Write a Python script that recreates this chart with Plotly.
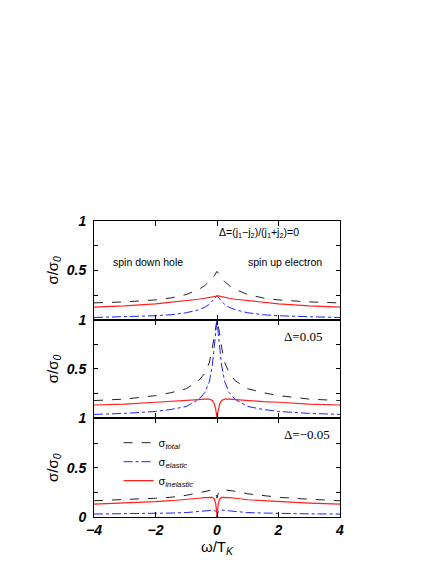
import plotly.graph_objects as go
from plotly.subplots import make_subplots

# omega / T_K sample points (denser near the Kondo peak)
omega = [-4, -3, -2, -1.5, -1, -0.6, -0.4, -0.25, -0.15, -0.08, -0.04, -0.01, 0,
         0.01, 0.04, 0.08, 0.15, 0.25, 0.4, 0.6, 1, 1.5, 2, 3, 4]

# panel 1: Delta = 0
total_d0 = [0.17, 0.18, 0.20, 0.22, 0.255, 0.305, 0.345, 0.385, 0.42, 0.45, 0.47, 0.485, 0.49,
            0.485, 0.47, 0.45, 0.42, 0.385, 0.345, 0.305, 0.255, 0.22, 0.20, 0.18, 0.17]
elastic_d0 = [0.022, 0.03, 0.04, 0.05, 0.07, 0.10, 0.125, 0.155, 0.185, 0.21, 0.228, 0.24, 0.245,
              0.24, 0.228, 0.21, 0.185, 0.155, 0.125, 0.10, 0.07, 0.05, 0.04, 0.03, 0.022]
inelastic_d0 = [0.128, 0.14, 0.16, 0.175, 0.192, 0.207, 0.217, 0.225, 0.232, 0.238, 0.242, 0.244, 0.245,
                0.244, 0.242, 0.238, 0.232, 0.225, 0.217, 0.207, 0.192, 0.175, 0.16, 0.14, 0.128]

# panel 2: Delta = 0.05
total_dp = [0.18, 0.195, 0.23, 0.26, 0.30, 0.38, 0.455, 0.565, 0.72, 0.87, 0.95, 0.99, 1.0,
            0.99, 0.95, 0.87, 0.72, 0.565, 0.455, 0.38, 0.30, 0.26, 0.23, 0.195, 0.18]
elastic_dp = [0.04, 0.05, 0.07, 0.09, 0.12, 0.19, 0.26, 0.37, 0.54, 0.73, 0.86, 0.97, 1.0,
              0.97, 0.86, 0.73, 0.54, 0.37, 0.26, 0.19, 0.12, 0.09, 0.07, 0.05, 0.04]
inelastic_dp = [0.135, 0.145, 0.163, 0.17, 0.178, 0.19, 0.195, 0.195, 0.18, 0.14, 0.09, 0.03, 0.0,
                0.03, 0.09, 0.14, 0.18, 0.195, 0.195, 0.19, 0.178, 0.17, 0.163, 0.145, 0.135]

# panel 3: Delta = -0.05
total_dm = [0.165, 0.175, 0.19, 0.20, 0.22, 0.245, 0.26, 0.27, 0.275, 0.265, 0.24, 0.21, 0.19,
            0.21, 0.24, 0.26, 0.27, 0.275, 0.27, 0.26, 0.235, 0.215, 0.20, 0.18, 0.165]
elastic_dm = [0.03, 0.032, 0.036, 0.04, 0.045, 0.055, 0.062, 0.068, 0.072, 0.07, 0.055, 0.02, 0.0,
              0.02, 0.055, 0.07, 0.072, 0.068, 0.062, 0.055, 0.045, 0.04, 0.036, 0.032, 0.03]
inelastic_dm = [0.13, 0.14, 0.155, 0.165, 0.175, 0.19, 0.197, 0.20, 0.198, 0.18, 0.13, 0.05, 0.0,
                0.05, 0.13, 0.18, 0.198, 0.20, 0.197, 0.19, 0.175, 0.165, 0.155, 0.14, 0.13]

panels = [
    (total_d0, elastic_d0, inelastic_d0),
    (total_dp, elastic_dp, inelastic_dp),
    (total_dm, elastic_dm, inelastic_dm),
]
names = ["σ<sub><i>total</i></sub>", "σ<sub><i>elastic</i></sub>", "σ<sub><i>inelastic</i></sub>"]
styles = [
    dict(color="#222222", width=1, dash="dash"),
    dict(color="#2020ff", width=1, dash="dashdot"),
    dict(color="#ff2020", width=1.2),
]

x_ticks = [-4, -2, 0, 2, 4]

fig = make_subplots(rows=3, cols=1, shared_xaxes=True, vertical_spacing=0)

for i, series in enumerate(panels):
    for j, ys in enumerate(series):
        fig.add_trace(
            go.Scatter(
                x=omega,
                y=ys,
                mode="lines",
                name=names[j],
                line=styles[j],
                showlegend=(i == 2),
            ),
            row=i + 1,
            col=1,
        )

tick_font = dict(family="Liberation Sans", size=14, weight="bold", style="italic", color="black")
for i in range(3):
    last = i == 2
    fig.update_yaxes(
        range=[0, 1],
        tickmode="array",
        tickvals=[0, 0.25, 0.5, 0.75, 1],
        ticktext=["0" if last else "", "", "0.5", "", "1"],
        ticks="inside",
        ticklen=4,
        tickcolor="black",
        showline=True,
        linecolor="black",
        linewidth=1,
        mirror="allticks",
        showgrid=False,
        zeroline=False,
        automargin=False,
        ticklabelstandoff=4,
        tickfont=tick_font,
        title=dict(text="σ/σ<sub><i>0</i></sub>", font=dict(family="Liberation Sans", size=15, color="black"), standoff=4),
        row=i + 1,
        col=1,
    )
    fig.update_xaxes(
        range=[-4, 4],
        tickmode="array",
        tickvals=x_ticks,
        ticks="inside",
        ticklen=5,
        tickcolor="black",
        showline=True,
        linecolor="black",
        linewidth=1,
        mirror="allticks",
        showgrid=False,
        zeroline=False,
        automargin=False,
        showticklabels=last,
        tickfont=tick_font,
        row=i + 1,
        col=1,
    )
fig.update_xaxes(
    title=dict(text="ω/T<sub><i>K</i></sub>", font=dict(family="Liberation Sans", size=15, color="black"), standoff=2),
    row=3,
    col=1,
)

sans = dict(family="Liberation Sans", size=10.5, color="black")
serif = dict(family="Liberation Serif", size=13, color="black")
fig.add_annotation(text="Δ=(j<sub>1</sub>−j<sub>2</sub>)/(j<sub>1</sub>+j<sub>2</sub>)=0", x=0, y=0.88,
                   xref="x", yref="y", xanchor="left", showarrow=False, font=sans)
fig.add_annotation(text="spin down hole", x=-3.45, y=0.58, xref="x", yref="y",
                   xanchor="left", showarrow=False, font=sans)
fig.add_annotation(text="spin up electron", x=0.95, y=0.58, xref="x", yref="y",
                   xanchor="left", showarrow=False, font=sans)
fig.add_annotation(text="Δ=0.05", x=2.12, y=0.83, xref="x2", yref="y2",
                   xanchor="left", showarrow=False, font=serif)
fig.add_annotation(text="Δ=−0.05", x=2.12, y=0.84, xref="x3", yref="y3",
                   xanchor="left", showarrow=False, font=serif)

# page body adds an 8px offset, so the figure is 8px smaller than the window
fig.update_layout(
    width=428,
    height=556,
    margin=dict(l=86, r=96, t=213, b=47),
    paper_bgcolor="white",
    plot_bgcolor="white",
    showlegend=True,
    legend=dict(
        x=0.1,
        y=0.3,
        xanchor="left",
        yanchor="top",
        bgcolor="rgba(0,0,0,0)",
        font=dict(family="Liberation Sans", size=11, color="black"),
        tracegroupgap=0,
        itemwidth=30,
    ),
)

fig.write_html("out.html")
